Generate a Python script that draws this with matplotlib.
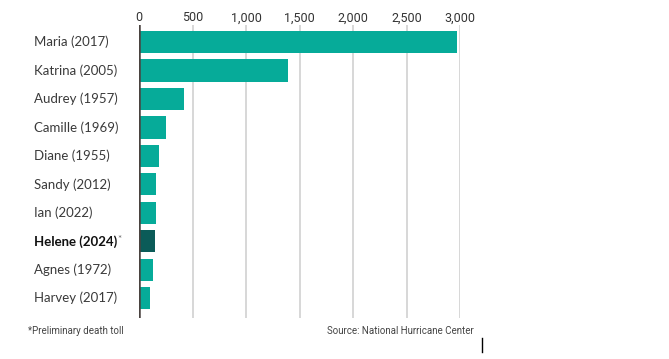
import matplotlib.pyplot as plt
from matplotlib.lines import Line2D
from matplotlib.transforms import blended_transform_factory
import numpy as np

storms = ['Maria (2017)', 'Katrina (2005)', 'Audrey (1957)', 'Camille (1969)',
          'Diane (1955)', 'Sandy (2012)', 'Ian (2022)', 'Helene (2024)',
          'Agnes (1972)', 'Harvey (2017)']
deaths = [2975, 1392, 416, 256, 184, 159, 156, 150, 128, 107]
highlight = 'Helene (2024)'
xticks = [0, 500, 1000, 1500, 2000, 2500, 3000]
xticklabels = ['0', '500', '1,000', '1,500', '2,000', '2,500', '3,000']

plt.rcParams['font.family'] = ['Lato', 'DejaVu Sans']
narrow = ['Liberation Sans Narrow', 'Roboto', 'DejaVu Sans']

fig = plt.figure(figsize=(6.69, 3.59), dpi=100)
ax = fig.add_axes([139 / 669, 1 - 318 / 359, 321 / 669, 293 / 359])

y = np.arange(len(storms))
colors = ['#0b5b58' if s == highlight else '#06ab99' for s in storms]
ax.barh(y, deaths, height=0.78, color=colors, zorder=2)

ax.set_xlim(0, 3000)
ax.set_ylim(len(storms) - 0.3, -0.6)
ax.xaxis.tick_top()
ax.set_xticks(xticks)
ax.set_xticklabels(xticklabels, family=narrow, fontsize=9, color='#333333')
ax.tick_params(axis='x', length=0, pad=0.5)
ax.set_yticks([])
for s in ax.spines.values():
    s.set_visible(False)
for t in xticks[1:]:
    ax.axvline(t, color='#d4d4d4', lw=1.3, zorder=1)
ax.axvline(0, color='#4a4340', lw=1.8, zorder=3)

trans = blended_transform_factory(fig.transFigure, ax.transData)
for i, s in enumerate(storms):
    bold = s == highlight
    t = ax.text(34 / 669, i, s, transform=trans, ha='left', va='center',
                fontsize=9.5, color='#111111' if bold else '#3a3a3a',
                fontweight='bold' if bold else 'normal')
    if bold:
        ax.annotate('*', xy=(1, 0.62), xycoords=t, xytext=(0.3, 0),
                    textcoords='offset points', fontsize=7, color='#666666',
                    ha='left', va='center')

fig.text(28 / 669, 1 - 331 / 359, '*Preliminary death toll', family=narrow,
         fontsize=7, color='#444444', va='center', ha='left')
fig.text(474 / 669, 1 - 331 / 359, 'Source: National Hurricane Center',
         family=narrow, fontsize=7, color='#444444', va='center', ha='right')
fig.add_artist(Line2D([482 / 669, 482 / 669], [1 - 338 / 359, 1 - 352 / 359],
                      color='black', lw=1))

fig.savefig('out.png', dpi=100)
